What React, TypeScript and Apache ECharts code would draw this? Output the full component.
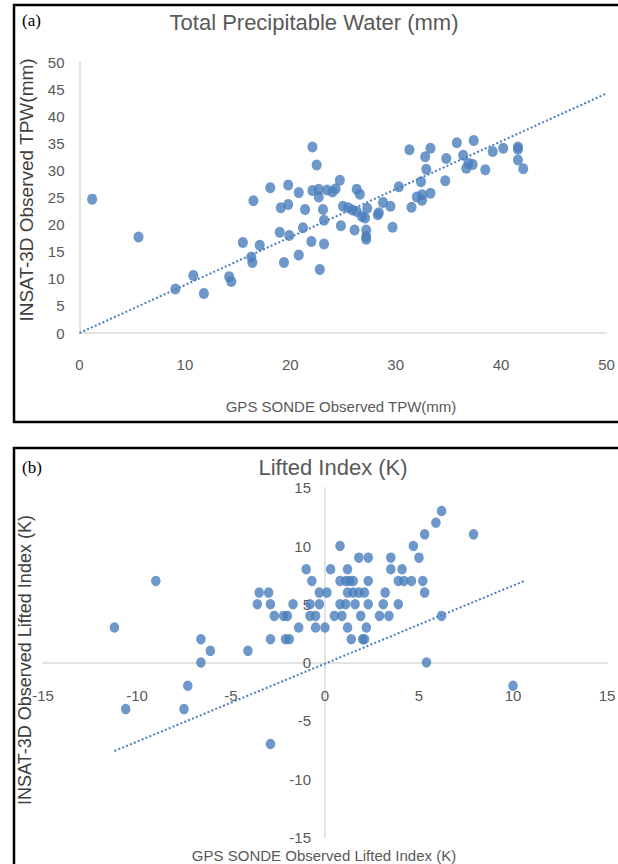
import React, { useEffect, useRef } from "react";
import * as echarts from "echarts";

// Panel (a): Total Precipitable Water (mm)
const tpwGps = [
  1.2, 5.6, 9.1, 10.8, 11.8, 14.2, 14.4, 15.5, 16.3, 16.4, 16.5, 17.1, 18.1, 19.0, 19.1, 19.4, 19.8, 19.8,
  19.9, 20.8, 20.8, 21.2, 21.4, 22.0, 22.1, 22.1, 22.5, 22.7, 22.7, 22.8, 23.1, 23.2, 23.2, 23.5, 24.0, 24.3,
  24.7, 24.8, 25.0, 25.5, 25.9, 26.3, 26.1, 26.3, 26.6, 26.8, 27.1, 27.2, 27.2, 27.2, 27.3, 28.3, 28.4, 28.8,
  29.5, 29.7, 30.3, 31.3, 31.5, 32.0, 32.5, 32.5, 32.4, 32.8, 33.3, 32.9, 33.3, 34.7, 34.8, 35.8, 36.4, 36.7,
  36.9, 37.3, 37.4, 38.5, 39.2, 40.2, 41.6, 41.6, 41.6, 42.1,
];
const tpwInsat = [
  24.7, 17.7, 8.1, 10.6, 7.3, 10.4, 9.5, 16.7, 14.0, 13.0, 24.4, 16.2, 26.8, 18.6, 23.1, 13.0, 23.7, 27.3,
  18.0, 25.9, 14.4, 19.4, 22.8, 16.9, 34.3, 26.3, 31.0, 26.5, 25.1, 11.7, 22.8, 16.4, 20.8, 26.4, 26.0, 26.6,
  28.2, 19.8, 23.4, 23.1, 22.7, 22.4, 19.0, 26.5, 25.6, 21.5, 21.2, 19.0, 17.8, 17.3, 23.0, 21.8, 22.2, 24.1,
  23.4, 19.5, 27.0, 33.8, 23.2, 25.1, 25.5, 24.5, 27.9, 32.5, 34.1, 30.2, 25.8, 28.1, 32.2, 35.1, 32.8, 30.4,
  31.3, 31.1, 35.5, 30.1, 33.5, 34.1, 34.3, 33.9, 31.9, 30.3,
];
const tpwTrendX = [0, 50];
const tpwTrendY = [0, 44.2];
const tpwTicksX = [0, 10, 20, 30, 40, 50];
const tpwTicksY = [0, 5, 10, 15, 20, 25, 30, 35, 40, 45, 50];

// Panel (b): Lifted Index (K)
const liGps = [
  -9.0, -11.2, -10.6, -7.5, -7.3, -6.6, -6.1, -6.6, -4.1, -2.9, -3.5, -3.0, -3.6, -2.9, -2.7, -2.9, -2.2, -2.0,
  -2.1, -1.9, -1.7, -1.4, -1.0, -0.7, -0.8, -0.3, -0.8, -0.5, -0.5, 0.0, -0.3, 0.1, 0.3, 0.8, 0.5, 0.8, 0.8,
  1.1, 1.3, 1.5, 1.1, 0.9, 1.2, 1.2, 1.5, 1.8, 2.1, 1.6, 1.2, 1.4, 1.8, 1.9, 2.0, 2.1, 2.2, 2.3, 2.3, 2.3, 2.9,
  3.1, 3.2, 3.4, 3.5, 3.5, 3.9, 4.2, 4.6, 3.9, 4.1, 4.7, 5.0, 5.2, 5.3, 5.3, 5.4, 5.9, 6.2, 6.2, 7.9, 10.0,
];
const liInsat = [
  7, 3, -4, -4, -2, 2, 1, 0, 1, -7, 6, 6, 5, 5, 4, 2, 4, 4,
  2, 2, 5, 3, 8, 7, 5, 5, 4, 4, 3, 3, 6, 6, 8, 7, 4, 5, 10,
  7, 7, 7, 5, 4, 8, 6, 6, 6, 6, 5, 3, 2, 9, 4, 2, 2, 3, 9, 7, 5, 4,
  5, 6, 4, 9, 8, 7, 7, 7, 5, 8, 10, 9, 7, 6, 11, 0, 12, 13, 4, 11, -2,
];
const liTrendX = [-11.2, 10.6];
const liTrendY = [-7.6, 7.0];
const liTicks = [-15, -10, -5, 0, 5, 10, 15];

const NARROW = "'Liberation Sans Narrow', 'Liberation Sans', sans-serif";
const ARIAL = "'Liberation Sans', Arial, sans-serif";
const SERIF = "'Liberation Serif', 'Times New Roman', serif";
const GRAY = "#595959";
const DOT = "#4a7ebb";
const AXIS = "#d9d9d9";

// grid geometry (pixels)
const A_LEFT = 79.5, A_RIGHT = 11.5, A_TOP = 62, A_H = 271;
const B_LEFT = 43, B_RIGHT = 11, B_TOP = 487.75, B_H = 349.5;
const B_W = 618 - B_LEFT - B_RIGHT;

const pairs = (xs: number[], ys: number[]) => xs.map((x, i) => [x, ys[i]]);

export default function App() {
  const ref = useRef<HTMLDivElement>(null);
  useEffect(() => {
    if (!ref.current) return;
    const chart = echarts.init(ref.current, null, { renderer: "svg" });
    const label = (margin: number) => ({
      show: true,
      margin,
      color: GRAY,
      fontSize: 15,
      fontFamily: NARROW,
    });
    const axisLine = { show: true, onZero: false, lineStyle: { color: AXIS, width: 1.5 } };
    const bMin = liTicks[0];
    const bMax = liTicks[liTicks.length - 1];
    // place panel (b) axes through the origin
    const bXOffset = -(B_H * (0 - bMin)) / (bMax - bMin);
    const bYOffset = -(B_W * (0 - bMin)) / (bMax - bMin);
    chart.setOption({
      animation: false,
      backgroundColor: "#ffffff",
      grid: [
        { left: A_LEFT, right: A_RIGHT, top: A_TOP, height: A_H, containLabel: false, outerBoundsMode: "none" },
        { left: B_LEFT, right: B_RIGHT, top: B_TOP, height: B_H, containLabel: false, outerBoundsMode: "none" },
      ],
      xAxis: [
        {
          gridIndex: 0,
          type: "value",
          position: "bottom",
          min: tpwTicksX[0],
          max: tpwTicksX[tpwTicksX.length - 1],
          interval: 10,
          axisLine,
          axisTick: { show: false },
          splitLine: { show: false },
          axisLabel: label(24),
        },
        {
          gridIndex: 1,
          type: "value",
          position: "bottom",
          offset: bXOffset,
          min: bMin,
          max: bMax,
          interval: 5,
          axisLine,
          axisTick: { show: false },
          splitLine: { show: false },
          axisLabel: label(25),
        },
      ],
      yAxis: [
        {
          gridIndex: 0,
          type: "value",
          position: "left",
          min: tpwTicksY[0],
          max: tpwTicksY[tpwTicksY.length - 1],
          interval: 5,
          axisLine,
          axisTick: { show: false },
          splitLine: { show: false },
          axisLabel: label(15),
        },
        {
          gridIndex: 1,
          type: "value",
          position: "left",
          offset: bYOffset,
          min: bMin,
          max: bMax,
          interval: 5,
          axisLine,
          axisTick: { show: false },
          splitLine: { show: false },
          axisLabel: label(14),
        },
      ],
      series: [
        {
          type: "line",
          xAxisIndex: 0,
          yAxisIndex: 0,
          data: pairs(tpwTrendX, tpwTrendY),
          showSymbol: false,
          symbol: "none",
          lineStyle: { color: DOT, width: 2, type: [2, 2.2] },
          z: 1,
        },
        {
          type: "scatter",
          xAxisIndex: 0,
          yAxisIndex: 0,
          data: pairs(tpwGps, tpwInsat),
          symbol: "circle",
          symbolSize: [10, 11],
          itemStyle: { color: DOT },
          z: 2,
        },
        {
          type: "line",
          xAxisIndex: 1,
          yAxisIndex: 1,
          data: pairs(liTrendX, liTrendY),
          showSymbol: false,
          symbol: "none",
          lineStyle: { color: DOT, width: 2, type: [2, 2.2] },
          z: 1,
        },
        {
          type: "scatter",
          xAxisIndex: 1,
          yAxisIndex: 1,
          data: pairs(liGps, liInsat),
          symbol: "circle",
          symbolSize: [9.5, 10.5],
          itemStyle: { color: DOT },
          z: 2,
        },
      ],
      graphic: [
        {
          type: "rect",
          shape: { x: 14, y: 5, width: 640, height: 417 },
          style: { fill: "none", stroke: "#000", lineWidth: 2.5 },
          silent: true,
        },
        {
          type: "rect",
          shape: { x: 14, y: 448, width: 640, height: 440 },
          style: { fill: "none", stroke: "#000", lineWidth: 2.5 },
          silent: true,
        },
        {
          type: "text",
          x: 22,
          y: 20,
          style: { text: "(a)", fill: "#000", fontSize: 17, fontFamily: SERIF, align: "left", verticalAlign: "middle" },
        },
        {
          type: "text",
          x: 22,
          y: 467,
          style: { text: "(b)", fill: "#000", fontSize: 17, fontFamily: SERIF, align: "left", verticalAlign: "middle" },
        },
        {
          type: "text",
          x: 314,
          y: 22,
          style: {
            text: "Total Precipitable Water (mm)",
            fill: GRAY,
            fontSize: 22,
            fontFamily: NARROW,
            align: "center",
            verticalAlign: "middle",
          },
        },
        {
          type: "text",
          x: 333,
          y: 467,
          style: {
            text: "Lifted Index (K)",
            fill: GRAY,
            fontSize: 22,
            fontFamily: NARROW,
            align: "center",
            verticalAlign: "middle",
          },
        },
        {
          type: "text",
          x: 341,
          y: 406,
          style: {
            text: "GPS SONDE Observed TPW(mm)",
            fill: GRAY,
            fontSize: 15,
            fontFamily: NARROW,
            align: "center",
            verticalAlign: "middle",
          },
        },
        {
          type: "text",
          x: 324,
          y: 855,
          style: {
            text: "GPS SONDE Observed Lifted Index (K)",
            fill: GRAY,
            fontSize: 15,
            fontFamily: NARROW,
            align: "center",
            verticalAlign: "middle",
          },
        },
        {
          type: "text",
          x: 26,
          y: 190,
          rotation: Math.PI / 2,
          style: {
            text: "INSAT-3D Observed TPW(mm)",
            fill: "#404040",
            fontSize: 19,
            fontFamily: ARIAL,
            align: "center",
            verticalAlign: "middle",
          },
        },
        {
          type: "text",
          x: 25,
          y: 660,
          rotation: Math.PI / 2,
          style: {
            text: "INSAT-3D Observed Lifted Index (K)",
            fill: "#404040",
            fontSize: 18,
            fontFamily: ARIAL,
            align: "center",
            verticalAlign: "middle",
          },
        },
      ],
    });
    return () => chart.dispose();
  }, []);
  return (
    <div
      ref={ref}
      style={{ position: "fixed", left: 0, top: 0, width: 618, height: 864, background: "#fff" }}
    />
  );
}
